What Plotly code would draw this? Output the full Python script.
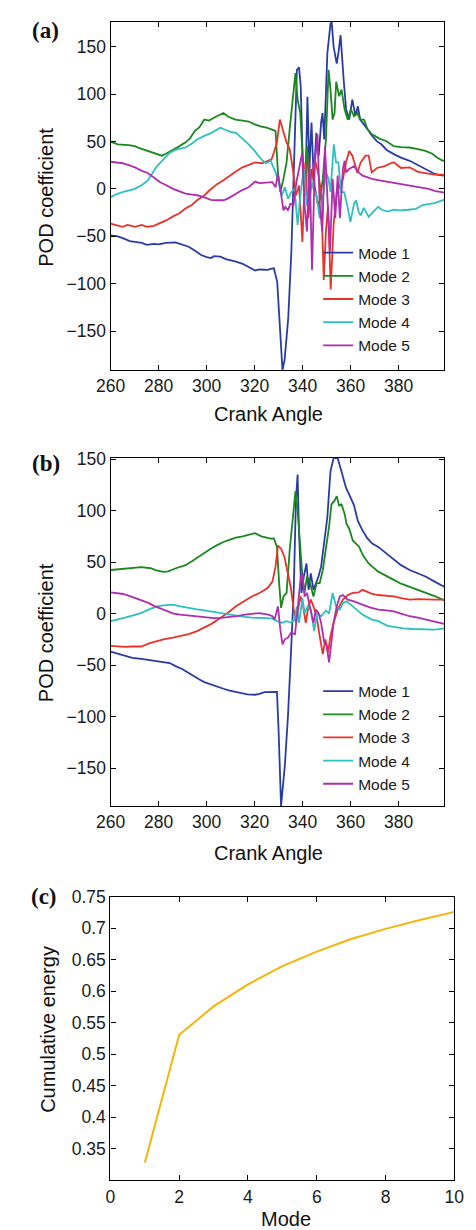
import plotly.graph_objects as go

# ---------------- Panel (a) data ----------------
a_m1_x = [260,263,265,268,270,273,275,278,280,283,287,290,292.5,295,297.7,300,301.8,303,305.7,308,310,312.2,315,317.5,320.2,322,325.4,327,328,329.4,330.5,331.6,332.5,334,335.3,336.6,337.6,338.5,339.2,340.2,341.1,342,342.8,343.7,344.6,345.7,346.7,347.7,348.3,349,350.3,351.6,352.1,352.9,354.2,355,355.8,357.1,358.1,359.4,360.7,362,363,364,365,367,368.9,371,372.8,375,378,381,384.6,388,391.2,393,395.1,397,399]
a_m1_y = [-49,-50,-52,-55,-56,-57,-59,-58,-58.6,-57,-56.5,-59,-61,-65,-69.7,-72,-73,-71,-71.5,-74,-75,-76.7,-79,-82,-86,-85,-85.4,-84,-83.7,-98,-140,-191,-180,-136,-66,31,125.5,128,108,14,-7,97,21,70,10,59,35,70,80,52,143,174,176,150,132,145,162,115,84,73,94,77,87,73,70,63,56,50,47,41,36.6,33,29.6,25,21,18,15.7,14.5,14]

a_m2_x = [260,263,267.5,270,272,275.4,278,281.3,283,286,288,291.2,293,295,297,299,301,303,305.7,307,309,312,315,317.5,320,322.8,325,328.7,329.7,330.7,332,333.3,334.6,335.9,337,337.9,339,339.9,340.8,341.8,342.9,343.8,345.1,346.4,347.3,348.4,349.7,350.8,351.6,352.5,353.3,354,355.2,356.2,357.5,358.8,360.1,361.4,362.7,364,365.6,367,368.9,372,374.8,378,381,384.6,388,391.2,394,396,398.4,399]
a_m2_y = [49.5,47,46,45,43,40,38,35,37,41,44,49,53,61,65,73,72,75,78.5,80,76,73,72,71,68,65.5,64.5,61,17,-3.5,10.5,28,63,97.6,122,94,80,38,-3.5,45,-10.5,21,3.5,-17.4,-10.5,10.5,52,125.5,104.6,73,80,113,97.6,104.6,83.7,73,83.7,76.7,80,73,73,63,57.5,53,50.5,45,44,43.6,42,40,37,33,29.6,30]

a_m3_x = [260,262,264.9,267,270.1,273,275,278,280,283.3,286,288.5,291,293.8,296,299,301,304.3,307,309.6,312,314.9,317,320.2,323,325.4,327,328,329.3,330.5,332,333.3,334.6,335.9,337.2,338.5,339.9,341.1,342.4,343.7,345.1,346.4,347.7,348.8,349.7,350.6,351.7,352.9,354.2,355.5,356.8,358.1,359.4,360.7,362,362.8,364.2,366.2,367.5,368.8,371,374.2,376.7,378,381,384.6,388,391,395,398.4,399]
a_m3_y = [-36.6,-38,-40,-38,-40,-38,-40,-39,-37,-33,-29,-26,-21,-17,-12,-7,-2,5,9,14,18,22.7,25,28,27,29.6,31,38,49,73,59,49,42,21,-7,3.5,-56,28,-31,10.5,31,17.4,-3.5,-96,-45,-17.4,-106,-38,-3.5,3.5,10.5,28,40,35,24,17,28,35,35,17.4,22,24,27,28,22,22.7,18,17,15,15,14]

a_m4_x = [260,262,264.9,267,270.1,273,275.4,277,279.3,282,284.6,287,291.2,294,296,299,302,304,305.7,308,310,312.2,315,317.5,320,322.8,324.7,326.7,328.7,330,331.3,332.6,333.9,335.2,336.6,337.9,339.2,340.5,341.8,343.1,344.5,345.8,347.1,348.4,349.7,350.8,351.6,353,353.9,354.9,356,357.3,358.6,359.9,361.4,362.3,363.3,364.2,365.5,367.5,369.5,371.5,373,375.4,378,380.6,384,387.2,390,392.5,395,398.4,399]
a_m4_y = [-8.7,-6,-3.5,-2,0,4,8.7,15,24,31,38,41,43.6,48,52,55.8,59,62,64.5,62,60,59,53,47,40,31,27,29.6,17.4,7,-7,1.7,-10.5,-3.5,0,-38,-3.5,21,-17.4,14,0,-7,-31,-10.5,17.4,10.5,-3.5,47,28,28,-3.5,-3.5,-17.4,-35,-15.7,-12,-24,-28,-20,-29.6,-24,-19,-22,-24,-22,-22.7,-22,-21,-17,-15.7,-15,-12,-12]

a_m5_x = [260,262,265,267.5,270.1,273,275.4,278,280.6,283,286,289,291.2,294,296.5,299,301.8,304,307,309,312.2,315,317.5,320.2,322,325.4,327.4,328.7,329.7,330.7,332,332.8,333.9,334.9,336.2,337.4,338.5,339.8,340.8,341.8,342.9,343.9,345.1,346.2,347.1,348.2,349.3,350.4,351.4,352.5,353.6,354.6,355.5,356.8,357.5,358.1,359.4,361.4,363.3,365,367,368.9,372,376.7,380,384.6,388,392.5,395,398.4,399]
a_m5_y = [28.6,28,27,25,22.7,19,16.7,12,7,4,0,-3,-5,-6,-7,-9,-11.5,-12,-12,-10,-5,-1,1.7,7.7,6,7,7,1.7,15.7,0,-22.7,-19,-22.7,-15.7,-17,7,21,38,-17,-45,28,-85.4,28,57.5,-17,-45,45,-17,-66,10.5,-31,14,-31,21,29.6,17.4,21,24,17.4,14,12,10.5,9,7,6,3.5,2,0,-2,-3.5,-4]

# ---------------- Panel (b) data ----------------
b_m1_x = [260,263,266,269,272.8,276,279.3,282,284.6,287,289.8,292,295.1,297,299,302,304.3,307,309.6,312,314.9,317,320.2,322,324.1,326,328.7,329.3,330,331,332.6,333.9,335.2,336.3,337.2,337.9,338.5,339.5,340.5,341.6,342.5,343.4,344.5,345.5,346.6,347.7,349,350.3,351.6,352.9,354.6,356.2,358.1,359.9,361.4,363,364.9,367,369,371.5,375,378,381,384.6,388,391.2,395,398.4,399]
b_m1_y = [-37,-39,-41,-43,-44,-45,-45.8,-47,-48,-51,-53.8,-57,-61.8,-64,-66.6,-69,-71.4,-73,-74.7,-76,-78,-78.5,-78.8,-78,-76.3,-76,-75.6,-76,-115,-187,-147,-99,-35,23,110,135,77.6,20,36,48.7,23,39,23,29.5,36,45.5,71,93.6,138,151,151,138,122,113,105,90,81,73,68,64.7,58,52,47,42.3,39,36,31,27,26]

b_m2_x = [260,263,266.2,269,272.8,276.7,279,282,284,287.2,291.2,294,296.4,299,301.7,304,307,310,312.2,315,317.5,320.1,322.8,326.7,328,329.3,330.2,331,332,333.3,334.6,335.9,337,337.9,339,339.9,340.8,341.8,343.1,344.5,345.8,347.1,348.4,349.7,351,352,353.3,354.2,355.2,356.2,357.5,358.3,359.4,360.9,363.6,365,367.5,371.5,375,378,381,384.6,388,391.2,395,398.4,399]
b_m2_y = [42.3,43,44,44.5,45,44,42,40.4,41,44,47,51,55,59,63,66,69.5,72,73.7,75,76.6,78,75,72.8,73,64.7,29.5,5.5,16.6,19.8,61.5,93.6,119,100,68,36,20,36,29.5,16.6,29.5,29.5,42.3,61.5,84,106,109.6,114,105,106,96.8,87,82.4,71,64.7,57,48.7,40.7,36,32.7,29,26,23,20,17,13.5,13]

b_m3_x = [260,263,266,269,272.8,276,279.3,282,285.9,289,292.5,296,299,302,305.7,309,312.2,315,318.8,322,325.4,327.4,328.7,329.7,331,332.4,333.7,335,336.3,337.2,338.3,339.2,340.2,341.3,342.4,343.4,344.5,345.8,347.1,348.4,349.5,350.6,351.6,352.9,354.6,356.8,358.8,360.9,363.3,364.9,367,369,371.5,375,378,381,384.6,388,391.2,395,398.4,399]
b_m3_y = [-31.4,-32,-32.4,-32,-32,-29,-26.6,-25,-23.4,-22,-20,-17,-13.8,-10,-4.2,1,7,11,16.6,20,24.7,31,45.5,66,63,55,42,26,3.8,-9,7,16.6,7,-9,7,13.5,7,-2.6,-21.8,-39.4,-25,-37.8,-21.8,-9,3.8,13.5,18,20,20.5,23,21,19,18,17,16.6,15,13.5,14,13.5,13.5,13.5,13.5]

b_m4_x = [260,263,266,269,272.8,276,279.3,282,285.9,289,292.5,296,299,302,305.7,309,312.2,315,318.8,322,325.4,327.4,329.3,331.3,333.3,335.2,336.6,337.6,338.5,339.9,340.8,342.1,343.4,344.8,346,347.7,349.7,351,352.5,353.9,355.5,356.8,358.3,360.9,363,364.9,366.5,368.9,371.5,373,375.4,378,382,386,391.2,395,398.4,399]
b_m4_y = [-7.4,-6,-4,-2,0.6,4,7,8,8.7,7,5.4,4,3.2,2,0.6,-1,-2,-3,-4,-4,-4.4,-5,-7.4,-9,-7.4,-9,-5.8,7,-9,15,0.6,7,3.8,-17,0.6,-2.6,3,0,20,7,3.8,10,11.8,7,3,-1,-3,-5.8,-7.4,-9,-12,-13,-14.4,-15,-15.4,-15.5,-14.7,-14.5]

b_m5_x = [260,262,265.2,268,270.4,273,275.7,278,281,284,286.2,289,292.8,296,299.4,303,306,309,312.5,316,319.1,322,325.7,327.4,328.3,329.7,330.7,331.6,332.6,333.9,335.2,336.8,337.9,339.2,339.9,340.8,341.8,343.1,344.5,345.5,346.6,347.7,349,350,351,352,352.9,354.2,355.5,356.8,358.8,361.4,363.8,364.9,368,371.5,375,378,381,384.6,388,391.2,395,398.4,399]
b_m5_y = [20.5,20,19,17,15,13,10.3,7.5,4.5,2,0,-1,-2,-3,-4.2,-4.5,-4.2,-3.5,-2.5,-1,0,0.5,-1,-2.6,-5.8,7,-15.4,-29.8,-25,-23.4,-18.6,-20,3.8,36,39,16.6,20,7,-9,3.8,0.6,-9,-28,-31,-47.4,-28,-9,7,16.6,18,13.5,11.8,10,8.7,6,3.8,3,2.2,0,-2.6,-4,-5.8,-8,-9.6,-10]

# ---------------- Panel (c) data ----------------
c_mode = [1,2,3,4,5,6,7,8,9,10]
c_energy = [0.328,0.531,0.576,0.611,0.640,0.663,0.683,0.699,0.713,0.726]

mode_names = ["Mode 1","Mode 2","Mode 3","Mode 4","Mode 5"]
pod_ticks = [-150,-100,-50,0,50,100,150]
crank_ticks = [260,280,300,320,340,360,380]
c_xticks = [0,2,4,6,8,10]
c_yticks = [0.35,0.4,0.45,0.5,0.55,0.6,0.65,0.7,0.75]
c_yticktext = ["0.35","0.4","0.45","0.5","0.55","0.6","0.65","0.7","0.75"]

colors = ["#2A3CA4","#1A871F","#E8332A","#2DC0C0","#B02DAE"]
FONT = "Liberation Sans, Arial, Helvetica, sans-serif"
SERIF = "Liberation Serif, Times New Roman, serif"

W, H = 476, 1230
def px(x): return x / W
def py(y): return 1 - y / H

fig = go.Figure()

a_series = [(a_m1_x,a_m1_y),(a_m2_x,a_m2_y),(a_m3_x,a_m3_y),(a_m4_x,a_m4_y),(a_m5_x,a_m5_y)]
b_series = [(b_m1_x,b_m1_y),(b_m2_x,b_m2_y),(b_m3_x,b_m3_y),(b_m4_x,b_m4_y),(b_m5_x,b_m5_y)]

for i,(xs,ys) in enumerate(a_series):
    fig.add_trace(go.Scatter(x=xs, y=ys, mode="lines", name=mode_names[i],
                             line=dict(color=colors[i], width=1.8),
                             xaxis="x", yaxis="y", legend="legend"))
for i,(xs,ys) in enumerate(b_series):
    fig.add_trace(go.Scatter(x=xs, y=ys, mode="lines", name=mode_names[i],
                             line=dict(color=colors[i], width=1.8),
                             xaxis="x2", yaxis="y2", legend="legend2"))
fig.add_trace(go.Scatter(x=c_mode, y=c_energy, mode="lines", showlegend=False,
                         line=dict(color="#F6B40A", width=2),
                         xaxis="x3", yaxis="y3"))

axis_common = dict(showline=True, linecolor="black", linewidth=1.3, mirror="ticks",
                   ticks="inside", ticklen=5, tickwidth=1, tickcolor="black",
                   showgrid=False, zeroline=False,
                   tickfont=dict(family=FONT, size=17.5, color="#1a1a1a"))

a_min = min(min(s[1]) for s in a_series); a_max = max(max(s[1]) for s in a_series)
b_min = min(min(s[1]) for s in b_series); b_max = max(max(s[1]) for s in b_series)

fig.update_layout(
    width=W, height=H, margin=dict(l=0, r=0, t=0, b=0),
    paper_bgcolor="white", plot_bgcolor="white",
    font=dict(family=FONT, color="#1a1a1a"),
    xaxis=dict(axis_common, domain=[px(101), px(453)], range=[260, 399],
               tickvals=crank_ticks, anchor="y"),
    yaxis=dict(axis_common, domain=[py(363), py(12)], range=[a_min, a_max],
               tickvals=pod_ticks, anchor="x"),
    xaxis2=dict(axis_common, domain=[px(101), px(453)], range=[260, 399],
                tickvals=crank_ticks, anchor="y2"),
    yaxis2=dict(axis_common, domain=[py(802.7), py(451.7)], range=[b_min, b_max],
                tickvals=pod_ticks, anchor="x2"),
    xaxis3=dict(axis_common, domain=[px(100.7), px(463.7)], range=[0, 10],
                tickvals=c_xticks, anchor="y3"),
    yaxis3=dict(axis_common, domain=[py(1180), py(894)], range=[0.3, 0.75],
                tickvals=c_yticks, ticktext=c_yticktext, anchor="x3"),
    legend=dict(x=px(320), y=py(228), xanchor="left", yanchor="top",
                bgcolor="rgba(0,0,0,0)", borderwidth=0,
                font=dict(family=FONT, size=15.5, color="#1a1a1a"), itemwidth=30,
                tracegroupgap=0),
    legend2=dict(x=px(320), y=py(670), xanchor="left", yanchor="top",
                 bgcolor="rgba(0,0,0,0)", borderwidth=0,
                 font=dict(family=FONT, size=15.5, color="#1a1a1a"), itemwidth=30,
                 tracegroupgap=0),
)

ann = []
def label(text, x, y, size=20, angle=0, family=FONT):
    ann.append(dict(text=text, x=px(x), y=py(y), xref="paper", yref="paper",
                    showarrow=False, textangle=angle, xanchor="center", yanchor="middle",
                    font=dict(family=family, size=size, color="#111")))

label("<b>(a)</b>", 32, 21, size=23, family=SERIF)
label("<b>(b)</b>", 33, 457, size=23, family=SERIF)
label("<b>(c)</b>", 31, 894, size=23, family=SERIF)
label("POD coefficient", 33, 189, angle=-90)
label("Crank Angle", 268, 407)
label("POD coefficient", 33, 628, angle=-90)
label("Crank Angle", 268, 850)
label("Cumulative energy", 34, 1028, angle=-90)
label("Mode", 286, 1219)
fig.update_layout(annotations=ann)

fig.write_html("out.html")
